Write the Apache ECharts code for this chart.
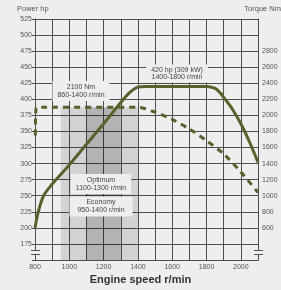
<!DOCTYPE html>
<html>
<head>
<meta charset="utf-8">
<script src="https://cdn.jsdelivr.net/npm/echarts@6/dist/echarts.min.js"></script>
<style>
  html, body { margin: 0; padding: 0; background: #eeeeee; }
  #chart { width: 281px; height: 290px; }
</style>
</head>
<body>
<div id="chart"></div>
<script>
// power curve (hp) vs engine speed
var powerRpm = [800, 820, 850, 900, 950, 1000, 1100, 1200, 1300, 1350, 1400, 1450, 1800, 1850, 1880, 1900, 1950, 2000, 2050, 2100]
var powerHp = [200, 226, 250, 268, 283, 298, 330, 362, 395, 410, 419, 420, 420, 417, 410, 403, 385, 362, 334, 302]

// torque curve (Nm), dashed
var torqueRpm = [802, 808, 860, 1400, 1500, 1600, 1700, 1800, 1900, 2000, 2100]
var torqueNm = [1750, 2100, 2100, 2100, 2040, 1950, 1830, 1685, 1520, 1295, 1040]

// speed bands, shaded up to the torque plateau
var economyBand = [950, 1400]
var optimumBand = [1100, 1300]
var plateauNm = 2100

var hpTicks = [175, 200, 225, 250, 275, 300, 325, 350, 375, 400, 425, 450, 475, 500, 525]
var nmTicks = [600, 800, 1000, 1200, 1400, 1600, 1800, 2000, 2200, 2400, 2600, 2800]
var rpmTicks = [800, 1000, 1200, 1400, 1600, 1800, 2000]

var lineColor = '#56622b'
var gridColor = '#4e4e4e'
var textColor = '#444'
var font = 'Liberation Sans'

function pairs (xs, ys) {
  return xs.map(function (x, i) { return [x, ys[i]] })
}

var chart = echarts.init(document.getElementById('chart'))

var option = {
  backgroundColor: '#eeeeee',
  animation: false,
  textStyle: { fontFamily: font },
  grid: { left: 35, right: 23, top: 19, bottom: 30 },
  xAxis: {
    type: 'value',
    min: 800,
    max: 2100,
    interval: 100,
    axisLine: { show: true, lineStyle: { color: gridColor, width: 1 } },
    axisTick: { show: false },
    splitLine: { show: true, lineStyle: { color: gridColor, width: 1 } },
    axisLabel: {
      color: '#555',
      fontSize: 7,
      margin: 4,
      formatter: function (v) { return rpmTicks.indexOf(v) >= 0 ? String(v) : '' }
    }
  },
  yAxis: [
    {
      type: 'value',
      min: 150,
      max: 525,
      interval: 25,
      axisLine: { show: true, lineStyle: { color: gridColor, width: 1 } },
      axisTick: { show: true, length: 3, lineStyle: { color: gridColor } },
      splitLine: { show: true, lineStyle: { color: gridColor, width: 1 } },
      axisLabel: {
        color: '#555',
        fontSize: 7,
        margin: 3,
        formatter: function (v) { return hpTicks.indexOf(v) >= 0 ? String(v) : '' }
      }
    },
    {
      type: 'value',
      min: 200,
      max: 3200,
      interval: 200,
      position: 'right',
      axisLine: { show: true, lineStyle: { color: gridColor, width: 1 } },
      axisTick: { show: false },
      splitLine: { show: false },
      axisLabel: {
        color: '#555',
        fontSize: 7,
        margin: 4,
        formatter: function (v) { return nmTicks.indexOf(v) >= 0 ? String(v) : '' }
      }
    }
  ],
  series: [
    {
      name: 'Torque',
      type: 'line',
      yAxisIndex: 1,
      data: pairs(torqueRpm, torqueNm),
      showSymbol: false,
      smooth: 0.3,
      z: 3,
      lineStyle: { color: lineColor, width: 3, type: [6, 5] },
      markArea: {
        silent: true,
        data: [
          [
            { coord: [economyBand[0], 200], itemStyle: { color: 'rgba(0,0,0,0.11)' } },
            { coord: [economyBand[1], plateauNm] }
          ],
          [
            { coord: [optimumBand[0], 200], itemStyle: { color: 'rgba(0,0,0,0.15)' } },
            { coord: [optimumBand[1], plateauNm] }
          ]
        ]
      }
    },
    {
      name: 'Power',
      type: 'line',
      yAxisIndex: 0,
      data: pairs(powerRpm, powerHp),
      showSymbol: false,
      smooth: 0.3,
      z: 4,
      lineStyle: { color: lineColor, width: 3 }
    }
  ],
  graphic: [
    { type: 'text', left: 17, top: 5, z: 100, style: { text: 'Power hp', fontSize: 7.5, fill: '#555', fontFamily: font } },
    { type: 'text', right: 0, top: 5, z: 100, style: { text: 'Torque Nm', fontSize: 7.5, fill: '#555', fontFamily: font } },
    { type: 'text', left: 'center', top: 274, z: 100, style: { text: 'Engine speed r/min', fontSize: 11, fontWeight: 'bold', fill: '#333', fontFamily: font } },
    {
      type: 'text', x: 81, y: 91, z: 100,
      style: { text: '2100 Nm\n860-1400 r/min', fontSize: 7, lineHeight: 8, fill: textColor, fontFamily: font, align: 'center', verticalAlign: 'middle', backgroundColor: '#eeeeee', padding: [2, 5] }
    },
    {
      type: 'text', x: 177, y: 73.5, z: 100,
      style: { text: '420 hp (309 kW)\n1400-1800 r/min', fontSize: 7, lineHeight: 7, fill: textColor, fontFamily: font, align: 'center', verticalAlign: 'middle', backgroundColor: '#eeeeee', padding: [2, 5] }
    },
    {
      type: 'text', x: 101, y: 184, z: 100,
      style: { text: 'Optimum\n1100-1300 r/min', fontSize: 7, lineHeight: 8, fill: textColor, fontFamily: font, align: 'center', verticalAlign: 'middle', backgroundColor: '#eeeeee', padding: [2, 5] }
    },
    {
      type: 'text', x: 101, y: 206.5, z: 100,
      style: { text: 'Economy\n950-1400 r/min', fontSize: 7, lineHeight: 8, fill: textColor, fontFamily: font, align: 'center', verticalAlign: 'middle', backgroundColor: '#eeeeee', padding: [2, 8] }
    },
    // broken axis marks
    { type: 'line', z: 100, shape: { x1: 31, y1: 250.5, x2: 40, y2: 250.5 }, style: { stroke: '#555', lineWidth: 1 } },
    { type: 'line', z: 100, shape: { x1: 31, y1: 254.5, x2: 40, y2: 254.5 }, style: { stroke: '#555', lineWidth: 1 } },
    { type: 'rect', z: 99, shape: { x: 34, y: 251, width: 3, height: 3 }, style: { fill: '#eeeeee' } },
    { type: 'line', z: 100, shape: { x1: 254, y1: 250.5, x2: 263, y2: 250.5 }, style: { stroke: '#555', lineWidth: 1 } },
    { type: 'line', z: 100, shape: { x1: 254, y1: 254.5, x2: 263, y2: 254.5 }, style: { stroke: '#555', lineWidth: 1 } },
    { type: 'rect', z: 99, shape: { x: 257, y: 251, width: 3, height: 3 }, style: { fill: '#eeeeee' } }
  ]
}

chart.setOption(option)
</script>
</body>
</html>
